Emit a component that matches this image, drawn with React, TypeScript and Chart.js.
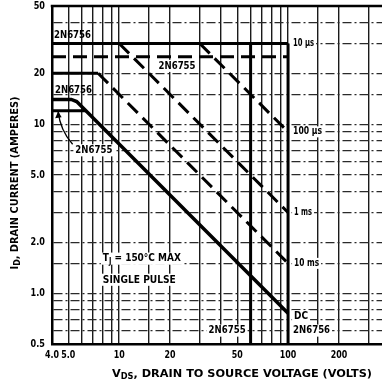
import { useEffect, useRef } from 'react';
import { Chart, registerables } from 'chart.js';

Chart.register(...registerables);

const FONT = "'Liberation Sans Narrow', 'DejaVu Sans Condensed', 'Liberation Sans', sans-serif";

// Grid lines (volts / amperes)
const voltGrid = [4, 5, 6, 7, 8, 9, 10, 15, 20, 30, 40, 50, 60, 70, 80, 90, 100, 150, 200, 300];
const ampGrid = [0.5, 0.6, 0.7, 0.8, 0.9, 1, 1.5, 2, 3, 4, 5, 6, 7, 8, 9, 10, 15, 20, 30, 40, 50];

// Labelled ticks
const voltTickValues = [4, 5, 10, 20, 50, 100, 200];
const voltTickLabels = ['4.0', '5.0', '10', '20', '50', '100', '200'];
const ampTickValues = [0.5, 1, 2, 5, 10, 20, 50];
const ampTickLabels = ['0.5', '1.0', '2.0', '5.0', '10', '20', '50'];

// Pulsed current limits
const pulse2N6756Volts = [4, 100];
const pulse2N6756Amps = [30, 30];
const pulse2N6755Volts = [4, 100];
const pulse2N6755Amps = [25, 25];
const flat20Volts = [4, 7.5];
const flat20Amps = [20, 20];

// Constant-power pulse boundaries
const pulse100usVolts = [30, 100];
const pulse100usAmps = [30, 9];
const pulse1msVolts = [10, 100];
const pulse1msAmps = [30, 3];
const pulse10msVolts = [7.5, 100];
const pulse10msAmps = [20, 1.5];

// DC boundaries
const dc2N6756Volts = [4, 5.2, 5.6, 100];
const dc2N6756Amps = [14, 14, 13.6, 0.76];
const dc2N6755Volts = [4, 6.33];
const dc2N6755Amps = [12, 12];

// Breakdown voltage limits
const bv2N6756Volts = [100, 100];
const bv2N6756Amps = [30, 0.5];
const bv2N6755Volts = [60, 60];
const bv2N6755Amps = [30, 0.5];

const pts = (vs: number[], as: number[]) => vs.map((v, i) => ({ x: v, y: as[i] }));

type Seg = { t: string; sub?: boolean };

function segFont(size: number, sub?: boolean) {
  return `bold ${sub ? Math.round(size * 0.75) : size}px ${FONT}`;
}

// Draws a run of text (with optional subscripts) at x, centred on y,
// squeezed horizontally to the requested width (or by a factor when width < 2).
function drawRich(ctx: CanvasRenderingContext2D, segs: Seg[], x: number, y: number, size: number, width?: number, align: 'left' | 'right' | 'center' = 'left', bg = false) {
  ctx.save();
  let natural = 0;
  for (const s of segs) {
    ctx.font = segFont(size, s.sub);
    natural += ctx.measureText(s.t).width;
  }
  const total = width === undefined ? natural : width < 2 ? natural * width : width;
  const sx = total / natural;
  const left = align === 'left' ? x : align === 'right' ? x - total : x - total / 2;
  if (bg) {
    ctx.fillStyle = '#fff';
    ctx.fillRect(left - 2, y - size * 0.55, total + 4, size * 1.1);
  }
  ctx.translate(left, y);
  ctx.scale(sx, 1);
  ctx.fillStyle = '#000';
  ctx.textBaseline = 'middle';
  ctx.textAlign = 'left';
  let cx = 0;
  for (const s of segs) {
    ctx.font = segFont(size, s.sub);
    ctx.fillText(s.t, cx, s.sub ? size * 0.3 : 0);
    cx += ctx.measureText(s.t).width;
  }
  ctx.restore();
}

const notesPlugin = {
  id: 'soaNotes',
  afterDatasetsDraw(chart: any) {
    const { ctx, chartArea: a, scales } = chart;
    const px = (v: number) => scales.x.getPixelForValue(v);
    const py = (v: number) => scales.y.getPixelForValue(v);
    ctx.save();

    // upper frame line
    ctx.strokeStyle = '#000';
    ctx.lineWidth = 2.5;
    ctx.beginPath();
    ctx.moveTo(a.left - 1.25, a.top);
    ctx.lineTo(a.right, a.top);
    ctx.stroke();

    // tick labels
    voltTickValues.forEach((v, i) => drawRich(ctx, [{ t: voltTickLabels[i] }], px(v), a.bottom + 11, 11, 0.8, 'center'));
    ampTickValues.forEach((v, i) => drawRich(ctx, [{ t: ampTickLabels[i] }], a.left - 7, py(v), 11, 0.82, 'right'));

    // device labels
    drawRich(ctx, [{ t: '2N6756' }], px(4) + 2, py(30) - 8, 11, 37);
    drawRich(ctx, [{ t: '2N6755' }], px(22), py(25) + 9, 11, 37, 'center', true);
    drawRich(ctx, [{ t: '2N6756' }], px(4) + 3, py(14) - 9, 11, 37);
    drawRich(ctx, [{ t: '2N6755' }], px(5.5), py(7), 11, 37, 'left', true);
    drawRich(ctx, [{ t: '2N6755' }], px(60) - 5, py(0.6), 11, 37, 'right', true);
    drawRich(ctx, [{ t: '2N6756' }], px(100) + 5, py(0.6), 11, 37, 'left', true);

    // pointer from the lower 2N6755 label to its DC limit
    const x0 = px(5.3), y0 = py(7.6), x1 = px(4.35), y1 = py(11.9);
    ctx.strokeStyle = '#000';
    ctx.lineWidth = 1.3;
    ctx.beginPath();
    ctx.moveTo(x0, y0);
    ctx.quadraticCurveTo(x1 + 2, y0 - 14, x1, y1);
    ctx.stroke();
    ctx.beginPath();
    ctx.moveTo(x1, y1);
    ctx.lineTo(x1 - 3, y1 + 7);
    ctx.lineTo(x1 + 3.5, y1 + 6);
    ctx.closePath();
    ctx.fillStyle = '#000';
    ctx.fill();

    // pulse-width labels
    drawRich(ctx, [{ t: '10 µs' }], px(100) + 5, py(30), 10, 21, 'left', true);
    drawRich(ctx, [{ t: '100 µs' }], px(100) + 5, py(9), 10, 29, 'left', true);
    drawRich(ctx, [{ t: '1 ms' }], px(100) + 6, py(3), 10, 18, 'left', true);
    drawRich(ctx, [{ t: '10 ms' }], px(100) + 6, py(1.5), 10, 25, 'left', true);
    drawRich(ctx, [{ t: 'DC' }], px(100) + 6, py(0.76) + 3, 11, 14, 'left', true);

    // conditions
    drawRich(ctx, [{ t: 'T' }, { t: 'J', sub: true }, { t: ' = 150°C MAX' }], px(8), py(1.6), 11, 78, 'left', true);
    drawRich(ctx, [{ t: 'SINGLE PULSE' }], px(8), py(1.2), 11, 73, 'left', true);

    // axis titles
    drawRich(ctx, [{ t: 'V' }, { t: 'DS', sub: true }, { t: ', DRAIN TO SOURCE VOLTAGE (VOLTS)' }], 112, a.bottom + 30, 11, 260);
    ctx.save();
    ctx.translate(15, a.top + 177);
    ctx.rotate(-Math.PI / 2);
    drawRich(ctx, [{ t: 'I' }, { t: 'D', sub: true }, { t: ', DRAIN CURRENT (AMPERES)' }], 0, 0, 10, 173, 'center');
    ctx.restore();

    ctx.restore();
  },
};

const solid = (data: any[], w = 3) => ({ data, borderColor: '#000', borderWidth: w, pointRadius: 0, fill: false });
const dashed = (data: any[], w = 3) => ({ ...solid(data, w), borderDash: [14, 7] });

export default function App() {
  const ref = useRef<HTMLCanvasElement>(null);

  useEffect(() => {
    if (!ref.current) return;
    const chart = new Chart(ref.current, {
      type: 'line',
      data: {
        datasets: [
          solid(pts(pulse2N6756Volts, pulse2N6756Amps)),
          dashed(pts(pulse2N6755Volts, pulse2N6755Amps)),
          solid(pts(flat20Volts, flat20Amps)),
          dashed(pts(pulse100usVolts, pulse100usAmps)),
          dashed(pts(pulse1msVolts, pulse1msAmps)),
          dashed(pts(pulse10msVolts, pulse10msAmps)),
          solid(pts(dc2N6756Volts, dc2N6756Amps), 3.5),
          solid(pts(dc2N6755Volts, dc2N6755Amps), 3),
          solid(pts(bv2N6756Volts, bv2N6756Amps), 3),
          solid(pts(bv2N6755Volts, bv2N6755Amps), 3),
        ] as any,
      },
      options: {
        animation: false,
        responsive: false,
        events: [],
        parsing: false as any,
        layout: { padding: { top: 6, right: 0, left: 0, bottom: 0 } },
        plugins: { legend: { display: false }, tooltip: { enabled: false } },
        scales: {
          x: {
            type: 'logarithmic',
            min: 4,
            max: 360,
            afterBuildTicks: (s: any) => {
              s.ticks = voltGrid.map((v) => ({ value: v }));
            },
            afterFit: (s: any) => {
              s.height = 42;
            },
            grid: { color: '#1a1a1a', lineWidth: 1.4, drawTicks: false },
            border: { display: true, color: '#000', width: 2.5 },
            ticks: { display: false },
          },
          y: {
            type: 'logarithmic',
            min: 0.5,
            max: 50,
            afterBuildTicks: (s: any) => {
              s.ticks = ampGrid.map((v) => ({ value: v }));
            },
            afterFit: (s: any) => {
              s.width = 52;
            },
            grid: { color: '#2a2a2a', lineWidth: 1.2, drawTicks: false },
            border: { display: true, color: '#000', width: 2.5, dash: [9, 3, 2, 3] },
            ticks: { display: false },
          },
        },
      } as any,
      plugins: [notesPlugin],
    });
    return () => chart.destroy();
  }, []);

  return (
    <div style={{ position: 'fixed', left: 0, top: 0, width: 382, height: 386, background: '#fff' }}>
      <canvas ref={ref} width={382} height={386} style={{ width: 382, height: 386, display: 'block' }} />
    </div>
  );
}
